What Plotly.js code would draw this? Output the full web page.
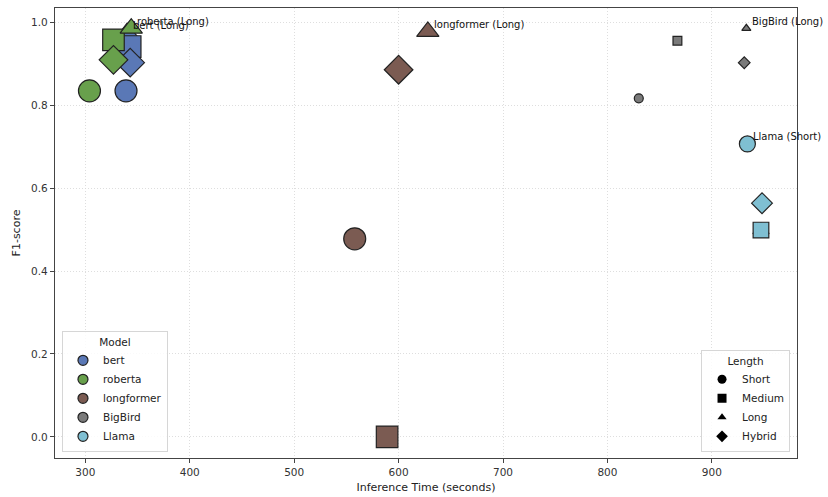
<!DOCTYPE html>
<html>
<head>
<meta charset="utf-8">
<script src="https://cdn.plot.ly/plotly-3.0.1.min.js"></script>
<style>html,body{margin:0;padding:0;background:#fff;}#chart{width:828px;height:497px;}</style>
</head>
<body>
<div id="chart"></div>
<script>
// ---- data ----
const models = ['bert', 'roberta', 'longformer', 'BigBird', 'Llama'];
const lengthTypes = ['Short', 'Medium', 'Long', 'Hybrid'];

const bertLength = ['Short', 'Long', 'Medium', 'Hybrid'];
const bertTime   = [339, 340, 343, 343];
const bertF1     = [0.835, 0.975, 0.942, 0.903];

const robertaLength = ['Short', 'Medium', 'Hybrid', 'Long'];
const robertaTime   = [304, 327, 327, 344];
const robertaF1     = [0.835, 0.958, 0.910, 0.986];

const longformerLength = ['Short', 'Medium', 'Long', 'Hybrid'];
const longformerTime   = [558, 589, 628, 600];
const longformerF1     = [0.478, 0.0, 0.978, 0.886];

const bigbirdLength = ['Short', 'Medium', 'Long', 'Hybrid'];
const bigbirdTime   = [830, 867, 933, 931];
const bigbirdF1     = [0.817, 0.956, 0.986, 0.903];

const llamaLength = ['Short', 'Long', 'Medium', 'Hybrid'];
const llamaTime   = [934, 947, 947, 948];
const llamaF1     = [0.707, 0.499, 0.499, 0.564];

// ---- styles ----
const modelColor = {bert:'#5a78b6', roberta:'#68a04c', longformer:'#7b5b52', BigBird:'#7a7a7a', Llama:'#7fbfd2'};
const modelSize  = {bert:22, roberta:22, longformer:22, BigBird:9, Llama:16};
const symbolOf   = {Short:'circle', Medium:'square', Long:'triangle-up', Hybrid:'diamond'};
const symScale   = {Short:1.0, Medium:0.98, Long:0.88, Hybrid:1.0};

const series = {
  bert: [bertLength, bertTime, bertF1],
  roberta: [robertaLength, robertaTime, robertaF1],
  longformer: [longformerLength, longformerTime, longformerF1],
  BigBird: [bigbirdLength, bigbirdTime, bigbirdF1],
  Llama: [llamaLength, llamaTime, llamaF1]
};

const traces = [];
const annotations = [];
const FONT = 'DejaVu Sans, Liberation Sans, sans-serif';

models.forEach(m => {
  const [len, t, f] = series[m];
  traces.push({
    type:'scatter', mode:'markers', x:t, y:f, showlegend:false, hoverinfo:'skip',
    marker:{
      color: modelColor[m], opacity:1,
      symbol: len.map(l => symbolOf[l]),
      size: len.map(l => modelSize[m]*symScale[l]),
      line:{color:'#222', width:1.2}
    }
  });
  // label the best point of each model
  let bi = 0;
  f.forEach((v, i) => { if (v > f[bi]) bi = i; });
  annotations.push({
    x: t[bi], y: f[bi], xref:'x', yref:'y',
    text: m + ' (' + len[bi] + ')',
    showarrow:false, xanchor:'left', yanchor:'middle',
    xshift: 4, yshift: 7,
    font:{family:FONT, size:10, color:'#111'}
  });
});

// legend-only entries
models.forEach(m => {
  traces.push({
    type:'scatter', mode:'markers', x:[null], y:[null], name:m, legend:'legend',
    marker:{color:modelColor[m], symbol:'circle', size:10, line:{color:'#222', width:1.2}}
  });
});
lengthTypes.forEach(l => {
  traces.push({
    type:'scatter', mode:'markers', x:[null], y:[null], name:l, legend:'legend2',
    marker:{color:'#000', symbol:symbolOf[l], size:l === 'Long' ? 8 : 9, line:{width:0}}
  });
});

const axisCommon = {
  showline:true, mirror:true, linecolor:'#444', linewidth:1.2,
  ticks:'outside', ticklen:4, tickcolor:'#444', tickwidth:1,
  showgrid:true, gridcolor:'#d6d6d6', griddash:'1px,2px', gridwidth:0.8,
  zeroline:false,
  tickfont:{family:FONT, size:10.5, color:'#333'}
};

const legendCommon = {
  bgcolor:'rgba(255,255,255,0.85)', bordercolor:'#d6d6d6', borderwidth:1,
  font:{family:FONT, size:10.5, color:'#222'},
  yanchor:'bottom', y:0.013
};

const layout = {
  width:828, height:497,
  margin:{l:55, r:31, t:8, b:39},
  paper_bgcolor:'#fff', plot_bgcolor:'#fff',
  showlegend:true,
  xaxis: Object.assign({}, axisCommon, {
    range:[271, 981.5], dtick:100, tick0:0,
    title:{text:'Inference Time (seconds)', font:{family:FONT, size:11, color:'#222'}, standoff:6}
  }),
  yaxis: Object.assign({}, axisCommon, {
    range:[-0.051, 1.035], tickvals:[0,0.2,0.4,0.6,0.8,1.0], tickformat:'.1f',
    title:{text:'F1-score', font:{family:FONT, size:11, color:'#222'}, standoff:8}
  }),
  legend: Object.assign({}, legendCommon, {
    x:0.0094, xanchor:'left',
    title:{text:'Model', side:'top center', font:{family:FONT, size:10.5, color:'#222'}}
  }),
  legend2: Object.assign({}, legendCommon, {
    x:0.9906, xanchor:'right',
    title:{text:'Length', side:'top center', font:{family:FONT, size:10.5, color:'#222'}}
  }),
  annotations: annotations
};

Plotly.newPlot('chart', traces, layout, {displayModeBar:false, staticPlot:true});
</script>
</body>
</html>
